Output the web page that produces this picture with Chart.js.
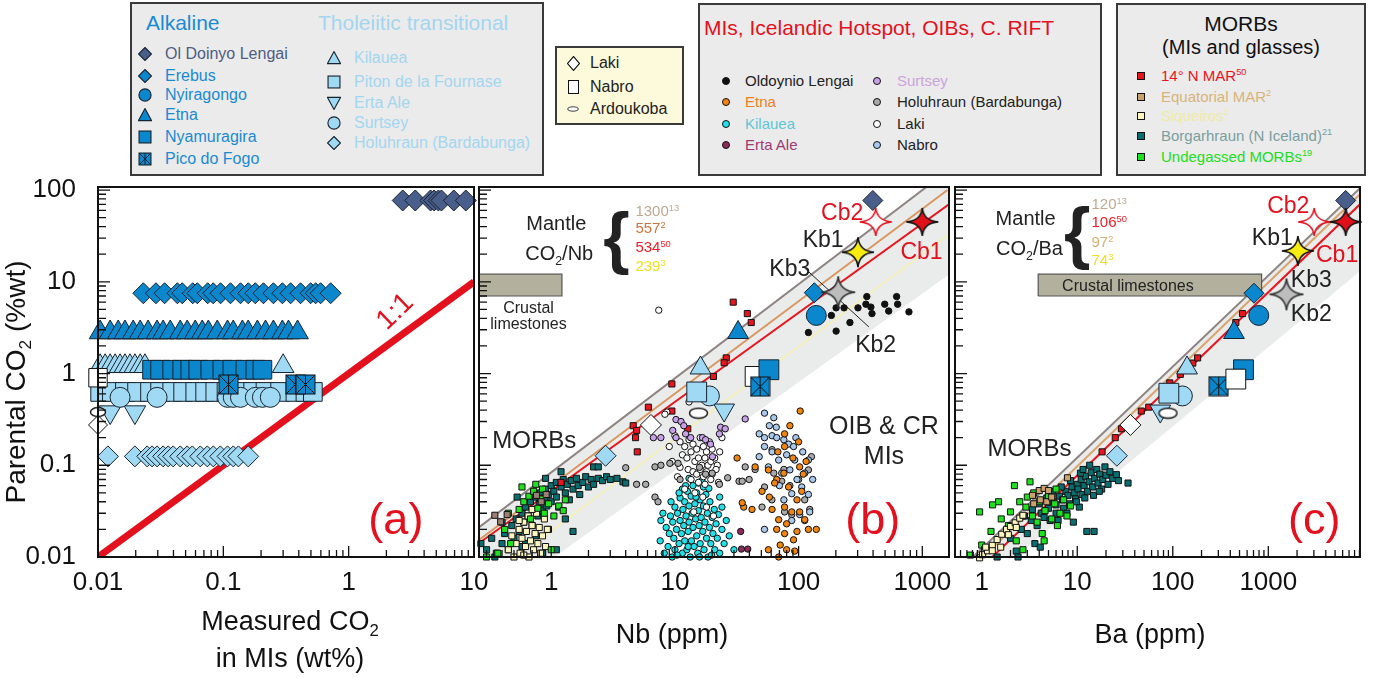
<!DOCTYPE html>
<html>
<head>
<meta charset="utf-8">
<script src="https://cdn.jsdelivr.net/npm/chart.js@4.4.1/dist/chart.umd.min.js"></script>
<style>
body { margin: 0; background: #fff; width: 1375px; height: 678px; overflow: hidden; position: relative; font-family: "Liberation Sans", Arial, sans-serif; }
canvas { position: absolute; }
.box { position: absolute; border: 2px solid #3a3a3a; background: #ebebeb; box-sizing: border-box; }
.t { position: absolute; white-space: nowrap; line-height: 24px; }
.m { position: absolute; line-height: 0; }
sup { font-size: 62%; vertical-align: top; position: relative; top: -4px; }
</style>
</head>
<body>
<div id="legend"></div>
<canvas id="cA" width="500" height="508" style="left:0;top:170px"></canvas>
<canvas id="cB" width="500" height="508" style="left:464px;top:170px"></canvas>
<canvas id="cC" width="435" height="508" style="left:940px;top:170px"></canvas>
<script>
// ---- axis ranges / tick labels ----
const yRange = [0.01, 108];
const yTicks = [0.01, 0.1, 1, 10, 100];
const xRangeA = [0.01, 10];
const xTicksA = [0.01, 0.1, 1, 10];
const xRangeB = [0.2606, 1644];
const xTicksB = [1, 10, 100, 1000];
const xRangeC = [0.525, 9120];
const xTicksC = [1, 10, 100, 1000];

// ---- panel (a): measured vs parental CO2 (wt%) ----
const aOlDoinyoX = [2.7, 3.4, 4.5, 4.8, 5.2, 5.5, 6.9, 8.6];
const aOlDoinyoY = 77;
const aErebusX = [0.023, 0.029, 0.034, 0.043, 0.047, 0.057, 0.062, 0.075, 0.083, 0.095, 0.114, 0.137, 0.158, 0.18, 0.209, 0.251, 0.296, 0.344, 0.413, 0.497, 0.545, 0.597, 0.718];
const aErebusY = 7.5;
const aEtnaX = [0.0104, 0.0125, 0.0145, 0.0164, 0.0191, 0.0217, 0.0251, 0.0296, 0.0331, 0.0377, 0.0453, 0.0515, 0.0597, 0.0679, 0.0759, 0.0895, 0.108, 0.12, 0.142, 0.158, 0.187, 0.217, 0.251, 0.296, 0.331, 0.391];
const aEtnaY = 2.8;
const aNyamuragiraX = [0.027, 0.0313, 0.0391, 0.047, 0.0545, 0.0631, 0.0787, 0.0982, 0.118, 0.15, 0.18, 0.205];
const aNyamuragiraY = 1.1;
const aKilaueaX = [0.0104, 0.0114, 0.0125, 0.0137, 0.015, 0.0164, 0.018, 0.0197, 0.0217, 0.0237, 0.3];
const aKilaueaY = 1.2;
const aPitonX = [0.0104, 0.0129, 0.0164, 0.0205, 0.026, 0.0313, 0.0391, 0.0478, 0.0597, 0.0716, 0.0863, 0.106, 0.137, 0.173, 0.217, 0.284, 0.376, 0.452, 0.518];
const aPitonY = 0.63;
const aSurtseyX = [0.015, 0.0296, 0.108, 0.12, 0.137, 0.18, 0.205, 0.237];
const aSurtseyY = 0.55;
const aErtaAleX = [0.0125, 0.0197];
const aErtaAleY = 0.38;
const aHoluhraunX = [0.012, 0.0197, 0.0247, 0.027, 0.0296, 0.0331, 0.0363, 0.0398, 0.0453, 0.0515, 0.0565, 0.0655, 0.0745, 0.0832, 0.0946, 0.108, 0.12, 0.132, 0.158];
const aHoluhraunY = 0.125;
const aFogoX = [0.11, 0.376, 0.452];
const aFogoY = 0.76;
const aLaki = [[0.01, 0.275]];
const aNabro = [[0.01, 0.9]];
const aArdoukoba = [[0.01, 0.38]];
const aOneToOne = [[0.01, 0.01], [10, 10]];

// ---- panel (b): Nb (ppm) vs parental CO2 ----
const bBand = [[0.26, 0.021], [1080, 108], [1700, 108], [1700, 12.4], [1.06, 0.01], [0.26, 0.01]];
const bLineGray = [[0.26, 0.021], [1080, 108]];
const bLineTan = [[0.26, 0.0153], [1600, 100]];
const bLineRed = [[0.26, 0.0141], [1644, 70]];
const bLineYellow = [[0.5, 0.0096], [1644, 33]];
const bLimestone = [[0.2, 7.0], [1.22, 7.0], [1.22, 12.1], [0.2, 12.1], [0.2, 7.0]];
const bKbLeader = [[112, 14.1], [370, 3.22]];
const bTeal = [[0.27,0.014],[0.30,0.012],[0.33,0.016],[0.35,0.010],[0.36,0.011],[0.40,0.014],[0.42,0.018],[0.45,0.012],[0.48,0.022],[0.50,0.016],[0.52,0.026],[0.53,0.045],[0.55,0.019],[0.58,0.030],[0.60,0.024],[0.62,0.035],[0.65,0.028],[0.68,0.040],[0.70,0.022],[0.72,0.033],[0.75,0.045],[0.78,0.028],[0.80,0.038],[0.82,0.050],[0.85,0.032],[0.88,0.044],[0.90,0.055],[0.92,0.036],[0.95,0.048],[1.0,0.060],[1.0,0.040],[1.05,0.052],[1.1,0.045],[1.1,0.065],[1.15,0.035],[1.2,0.058],[1.25,0.070],[1.3,0.050],[1.35,0.062],[1.4,0.042],[1.45,0.068],[1.5,0.055],[1.5,0.019],[1.6,0.072],[1.65,0.060],[1.7,0.048],[1.8,0.065],[1.9,0.075],[2.0,0.058],[2.1,0.070],[2.2,0.096],[2.2,0.062],[2.4,0.072],[2.4,0.096],[2.6,0.068],[2.8,0.075],[3.0,0.070],[3.4,0.072],[3.8,0.066],[4.0,0.064],[0.62,0.014],[0.75,0.017],[0.95,0.020],[1.3,0.026],[1.1,0.012],[0.85,0.011],[0.9,0.072],[1.2,0.085],[0.4,0.024],[0.58,0.013]];
const bCream = [[0.45,0.012],[0.48,0.017],[0.50,0.010],[0.52,0.014],[0.55,0.020],[0.56,0.011],[0.58,0.016],[0.60,0.024],[0.62,0.013],[0.63,0.019],[0.65,0.028],[0.66,0.010],[0.68,0.015],[0.70,0.022],[0.72,0.012],[0.74,0.018],[0.76,0.030],[0.78,0.014],[0.80,0.021],[0.82,0.011],[0.85,0.017],[0.88,0.026],[0.90,0.013],[0.93,0.020],[0.55,0.025],[0.70,0.033],[0.60,0.0105]];
const bGreen = [[0.30,0.010],[0.37,0.011],[0.42,0.020],[0.47,0.014],[0.55,0.033],[0.60,0.040],[0.66,0.046],[0.72,0.052],[0.68,0.026],[0.78,0.034],[0.82,0.043],[0.88,0.030],[0.95,0.038],[1.0,0.012],[1.05,0.028],[1.15,0.036],[1.25,0.032],[0.85,0.055],[0.58,0.058],[1.3,0.042],[0.45,0.030],[0.75,0.062]];
const bEquatorial = [[0.35,0.0285],[0.44,0.029],[0.39,0.0242],[0.76,0.047],[0.83,0.040],[0.91,0.048]];
const bMar14 = [[29.6,6.0],[38.5,4.5],[41.4,3.6],[26,1.48],[25,1.31],[20.5,0.93],[9.45,0.77],[6.1,0.43],[9.45,0.39],[12.7,0.25],[4.6,0.27],[4.9,0.24],[4.8,0.20],[4.96,0.14],[1.2,0.065]];
const bKilaueaMI = [[7.6,0.015],[8.2,0.011],[8.5,0.021],[8.8,0.013],[9.0,0.018],[9.2,0.028],[9.5,0.010],[9.6,0.024],[9.8,0.016],[10,0.035],[10,0.012],[10.3,0.020],[10.5,0.030],[10.8,0.014],[11,0.025],[11,0.044],[11.3,0.018],[11.5,0.011],[11.6,0.033],[11.8,0.022],[12,0.040],[12,0.015],[12.3,0.028],[12.5,0.012],[12.6,0.052],[12.8,0.019],[13,0.036],[13,0.024],[13.3,0.010],[13.5,0.046],[13.6,0.015],[13.8,0.030],[14,0.021],[14,0.060],[14.3,0.013],[14.5,0.038],[14.7,0.026],[15,0.017],[15,0.050],[15.3,0.011],[15.5,0.032],[15.7,0.022],[16,0.042],[16,0.014],[16.3,0.027],[16.5,0.068],[16.8,0.019],[17,0.036],[17.2,0.012],[17.5,0.024],[17.8,0.048],[18,0.016],[18.3,0.030],[18.5,0.010],[19,0.021],[19.2,0.040],[19.5,0.014],[20,0.027],[20.3,0.018],[20.8,0.033],[21,0.012],[21.5,0.023],[22,0.016],[22.5,0.029],[23,0.011],[24,0.020],[25,0.014],[26,0.025],[27.5,0.017],[13,0.072],[15.5,0.064],[12.2,0.060],[17,0.058],[11.5,0.055],[8.0,0.030],[9.3,0.040],[10.8,0.050],[24,0.035],[18.8,0.056],[14.8,0.045],[12.8,0.013],[15.8,0.010],[10.4,0.0105],[19.8,0.0105],[23,0.045],[7.7,0.025],[30,0.012]];
const bLakiMI = [[7.4,4.9],[8.6,0.38],[8.3,0.36],[13,0.49],[10,0.21],[11,0.18],[12,0.16],[13,0.19],[14,0.17],[15,0.15],[16,0.20],[17,0.16],[18,0.14],[19,0.18],[20,0.15],[11.5,0.13],[12.5,0.12],[13.5,0.14],[14.5,0.11],[15.5,0.12],[16.5,0.10],[17.5,0.12],[18.5,0.10],[19.5,0.11],[21,0.12],[22,0.10],[11,0.095],[12.8,0.09],[14,0.085],[15,0.08],[16,0.09],[17,0.075],[18,0.085],[20,0.08],[21.5,0.09],[13.5,0.07],[15.5,0.065],[17.5,0.062],[19.5,0.07],[12,0.055],[14.5,0.05],[16.8,0.045],[10.5,0.075],[9.5,0.11],[23,0.14],[24,0.20],[9,0.16],[22.5,0.065],[18,0.035],[20.5,0.028],[14.2,0.031]];
const bSurtseyMI = [[6.7,0.20],[7.7,0.20],[9.6,0.24],[10.2,0.315],[11.2,0.30],[11.8,0.27],[10.2,0.20],[13.4,0.20],[16.7,0.20],[17.7,0.19],[19.4,0.17],[20.1,0.124],[22.9,0.22],[23.4,0.26],[25.5,0.25],[37,0.32],[12.2,0.22]];
const bHoluhraunMI = [[4,0.094],[4.9,0.062],[5.8,0.062],[6.9,0.096],[7.7,0.10],[9.1,0.105],[10.6,0.105],[6.9,0.045],[7.3,0.040],[11,0.07],[15.8,0.095],[17.7,0.08],[20,0.082],[22.9,0.062],[26.7,0.073],[33,0.067],[35,0.067],[39.8,0.07],[37,0.096],[44.5,0.09],[53,0.058],[63,0.082],[73,0.067],[85,0.06],[100,0.07],[112,0.042],[123,0.033],[60.8,0.042],[77,0.031],[50.6,0.035],[88,0.029],[120,0.089],[127,0.124],[76,0.09],[61,0.148]];
const bNabroMI = [[53,0.37],[63,0.33],[48,0.22],[53,0.20],[61,0.21],[66.5,0.20],[76,0.19],[83,0.17],[91,0.16],[53,0.16],[61,0.14],[69,0.114],[80,0.13],[93,0.114],[57,0.096],[73,0.082],[85,0.089],[97,0.070],[112,0.082],[106,0.058],[120,0.048],[88,0.049],[76,0.042],[123,0.031],[102,0.029],[88,0.025],[112,0.025],[53,0.020],[120,0.114],[48,0.124],[66,0.26],[95,0.20],[58,0.27],[108,0.14],[70,0.06],[130,0.07]];
const bEtnaMI = [[103,0.39],[31.8,0.12],[44.5,0.096],[57,0.089],[66.5,0.07],[76,0.082],[77,0.22],[77,0.16],[102,0.096],[109,0.08],[106,0.052],[97,0.042],[83,0.058],[64,0.064],[58,0.045],[77,0.035],[102,0.031],[139,0.020],[120,0.020],[61,0.033],[69,0.0255],[80,0.023],[66.5,0.020],[77,0.018],[91,0.0154],[71,0.0135],[80,0.012],[69,0.010],[57,0.012],[93,0.0116],[36,0.035],[42,0.033],[35,0.039],[50.6,0.052],[88,0.031],[97,0.019],[112,0.0255],[90,0.12],[68,0.14],[100,0.18],[85,0.27],[115,0.11]];
const bErtaAleMI = [[34,0.019],[34.5,0.0122],[38.8,0.0122]];
const bOldoynioMI = [[356,6.9],[620,6.9],[302,5.2],[350,5.7],[384,5.3],[497,5.7],[632,5.7],[780,4.7],[535,4.8],[392,4.5],[201,5.2],[184,4.3],[260,3.6],[201,2.9],[120,2.8],[233,5.2]];
const bOlDoinyo = [[398, 77]];
const bErebus = [[134, 7.6]];
const bNyiragongo = [[139, 4.3]];
const bEtna = [[32.4, 2.8]];
const bNabro = [[44.5, 0.93]];
const bNyamuragira = [[57.5, 1.1]];
const bFogo = [[48.8, 0.72]];
const bKilauea = [[16.1, 1.15]];
const bSurtsey = [[19, 0.57]];
const bPiton = [[15, 0.63]];
const bErtaAle = [[25, 0.40]];
const bArdoukoba = [[15.5, 0.37]];
const bLaki = [[6.4, 0.275]];
const bHoluhraun = [[2.75, 0.127]];
const bCb1 = [[1000, 45]];
const bCb2 = [[420, 45]];
const bKb1 = [[302, 21]];
const bKb23 = [[209, 7.7]];

// ---- panel (c): Ba (ppm) vs parental CO2 ----
const cBand = [[0.81, 0.01], [9120, 105], [9120, 13.0], [2.24, 0.01]];
const cLineGray = [[0.81, 0.01], [9120, 105]];
const cLineTan = [[1.03, 0.01], [9120, 90]];
const cLineRed = [[1.29, 0.01], [9120, 70]];
const cLimestone = [[3.9, 7.0], [851, 7.0], [851, 12.1], [3.9, 12.1], [3.9, 7.0]];
const cTeal = [[1.45,0.010],[2.3,0.0116],[2.4,0.010],[3.6,0.014],[4.1,0.0128],[2.0,0.016],[2.6,0.020],[3.0,0.018],[3.3,0.025],[3.8,0.022],[4.2,0.030],[4.5,0.027],[5.0,0.034],[5.2,0.025],[5.6,0.040],[6.0,0.037],[6.0,0.030],[6.5,0.046],[7.0,0.042],[7.2,0.034],[7.6,0.052],[8.0,0.047],[8.3,0.038],[8.8,0.058],[9.1,0.024],[9.3,0.050],[9.6,0.043],[10,0.062],[10.2,0.055],[10.5,0.035],[11,0.070],[11.2,0.048],[11.8,0.060],[12.2,0.076],[12.6,0.019],[12.8,0.052],[13.3,0.066],[13.5,0.10],[14,0.083],[14.5,0.058],[15,0.019],[15.2,0.072],[16,0.090],[16.5,0.064],[17.2,0.080],[18,0.055],[18.5,0.070],[19.5,0.096],[20,0.078],[21,0.062],[22,0.085],[23.5,0.072],[25.7,0.079],[27,0.068],[34,0.064],[5.5,0.052],[4.8,0.044],[6.8,0.058],[8.5,0.068],[10.8,0.082],[7.8,0.030],[9.8,0.040],[12,0.044],[14.8,0.047],[3.4,0.033],[2.8,0.028],[4.0,0.038],[11.5,0.090],[6.3,0.025],[17,0.052]];
const cGreen = [[0.76,0.0105],[1.0,0.0135],[1.25,0.019],[1.6,0.026],[1.9,0.022],[2.0,0.031],[2.3,0.015],[2.5,0.040],[2.9,0.035],[3.0,0.045],[3.4,0.028],[3.5,0.050],[3.8,0.024],[4.0,0.040],[4.3,0.018],[4.6,0.032],[5.0,0.046],[5.4,0.026],[5.8,0.038],[6.2,0.022],[6.6,0.030],[7.2,0.042],[7.8,0.028],[8.5,0.036],[2.2,0.060],[1.5,0.040],[3.2,0.066],[6.0,0.055],[4.5,0.015],[2.7,0.012],[0.95,0.031],[1.3,0.037]];
const cCream = [[0.95,0.0098],[1.02,0.0106],[1.15,0.0117],[1.29,0.0134],[1.45,0.0155],[1.62,0.0177],[1.82,0.0200],[2.0,0.0215],[2.24,0.0236],[2.5,0.0265],[2.7,0.0285],[1.29,0.0117],[1.58,0.0128],[1.1,0.0128],[1.9,0.0175],[2.3,0.021]];
const cEquatorial = [[3.4,0.047],[4.0,0.053],[4.5,0.056],[5.0,0.053],[4.1,0.042],[4.8,0.040],[5.4,0.045],[3.5,0.038],[7.9,0.073],[2.7,0.028]];
const cMar14 = [[18.2,0.14],[25,0.20],[29,0.25],[46.8,0.39],[56,0.43],[93,0.79],[120,0.98],[162,1.30],[182,1.48],[457,3.6],[537,4.5]];
const cOlDoinyo = [[6460, 77]];
const cErebus = [[708, 7.5]];
const cNyiragongo = [[794, 4.3]];
const cEtna = [[437, 2.8]];
const cNyamuragira = [[550, 1.1]];
const cNabro = [[457, 0.87]];
const cFogo = [[302, 0.73]];
const cKilauea = [[141, 1.15]];
const cSurtsey = [[126, 0.57]];
const cPiton = [[91, 0.61]];
const cErtaAle = [[74, 0.39]];
const cArdoukoba = [[89, 0.37]];
const cLaki = [[36, 0.275]];
const cHoluhraun = [[26, 0.127]];
const cCb1 = [[6460, 45]];
const cCb2 = [[3020, 45]];
const cKb1 = [[2040, 21.7]];
const cKb23 = [[1550, 7.3]];

// ---- colours ----
const blue = '#0b87cd', light = '#a0d9f3', slate = '#4a5e8c', edge = '#17232f', red = '#e3101e';
const font = (s, w) => (w || '') + ' ' + s + 'px "Liberation Sans", Arial, sans-serif';

// custom point markers
function markCanvas(w, h, draw) {
  const c = document.createElement('canvas');
  c.width = w; c.height = h;
  const g = c.getContext('2d');
  g.translate(w / 2, h / 2);
  draw(g);
  return c;
}
function fogoMark(s) {
  return markCanvas(s + 2, s + 2, g => {
    const h = s / 2;
    g.fillStyle = blue; g.fillRect(-h, -h, s, s);
    g.strokeStyle = '#111'; g.lineWidth = 1; g.strokeRect(-h, -h, s, s);
    g.beginPath(); g.moveTo(-h, -h); g.lineTo(h, h); g.moveTo(h, -h); g.lineTo(-h, h);
    g.moveTo(0, -h); g.lineTo(0, h); g.stroke();
  });
}
function ellipseMark(w, h) {
  return markCanvas(w + 3, h + 3, g => {
    g.beginPath(); g.ellipse(0, 0, w / 2, h / 2, 0, 0, Math.PI * 2);
    g.fillStyle = '#fff'; g.fill(); g.strokeStyle = '#111'; g.lineWidth = 1.4; g.stroke();
  });
}
function starMark(fill, stroke, rx, ry) {
  return markCanvas(2 * rx + 6, 2 * ry + 6, g => {
    const k = 0.08;
    g.beginPath();
    g.moveTo(0, -ry);
    g.quadraticCurveTo(rx * k, -ry * k, rx, 0);
    g.quadraticCurveTo(rx * k, ry * k, 0, ry);
    g.quadraticCurveTo(-rx * k, ry * k, -rx, 0);
    g.quadraticCurveTo(-rx * k, -ry * k, 0, -ry);
    g.closePath();
    g.fillStyle = fill; g.fill();
    g.lineWidth = 1.6; g.strokeStyle = stroke; g.stroke();
  });
}

const pts = arr => arr.map(p => ({ x: p[0], y: p[1] }));
const row = (xs, y) => xs.map(x => ({ x, y }));
function sym(data, style, fill, r, extra) {
  return Object.assign({ data, pointStyle: style, pointBackgroundColor: fill, pointBorderColor: edge,
    pointBorderWidth: 1, pointRadius: r, showLine: false, clip: false }, extra || {});
}
const dots = (arr, fill) => sym(pts(arr), 'circle', fill, 3.2, { pointBorderColor: '#111' });
const sqs = (arr, fill) => sym(pts(arr), 'rect', fill, 4.3, { pointBorderColor: '#111' });
const line = (arr, color, w) => ({ data: pts(arr), showLine: true, borderColor: color, borderWidth: w, pointRadius: 0, fill: false, tension: 0 });
const shape = (arr, fill, border, w) => ({ data: pts(arr), showLine: true, borderColor: border, borderWidth: w, backgroundColor: fill, pointRadius: 0, fill: 'shape', tension: 0 });

// rich text: segments [text, 'sub'|'sup'|'', colour]
function rich(ctx, segs, x, y, size, align, color, rot, weight) {
  let w = 0;
  const parts = segs.map(s => {
    const sz = s[1] ? size * 0.62 : size;
    ctx.font = font(sz, weight);
    const mw = ctx.measureText(s[0]).width;
    w += mw;
    return { txt: s[0], sz, mw, mode: s[1], col: s[2] };
  });
  ctx.save();
  ctx.translate(x, y);
  ctx.rotate((rot || 0) * Math.PI / 180);
  ctx.textAlign = 'left'; ctx.textBaseline = 'alphabetic';
  let cx = align === 'left' ? 0 : (align === 'right' ? -w : -w / 2);
  const base = size * 0.358;
  parts.forEach(p => {
    ctx.font = font(p.sz, weight);
    ctx.fillStyle = p.col || color;
    const dy = p.mode === 'sub' ? size * 0.22 : (p.mode === 'sup' ? -size * 0.36 : 0);
    ctx.fillText(p.txt, cx, base + dy);
    cx += p.mw;
  });
  ctx.restore();
}

function logSteps(min, max) {
  const out = [];
  for (let e = Math.floor(Math.log10(min)); e <= Math.ceil(Math.log10(max)); e++) {
    for (let m = 1; m <= 9; m++) {
      const v = m * Math.pow(10, e);
      if (v >= min * 0.999 && v <= max * 1.001) out.push({ v, major: m === 1 });
    }
  }
  return out;
}

function deco(cfg) {
  return {
    id: 'deco',
    afterDatasetsDraw(chart) {
      const { ctx, chartArea: a } = chart;
      const x = chart.scales.x, y = chart.scales.y;
      ctx.save();
      (cfg.notes || []).forEach(n => rich(ctx, n.t, x.getPixelForValue(n.x), y.getPixelForValue(n.y),
        n.size, n.align || 'center', n.color || '#222', n.rot, n.weight));
      ctx.strokeStyle = '#111';
      ctx.lineWidth = 1.3;
      ctx.beginPath();
      logSteps(x.min, x.max).forEach(t => {
        const px = x.getPixelForValue(t.v);
        ctx.moveTo(px, a.bottom); ctx.lineTo(px, a.bottom - (t.major ? 11 : 7));
      });
      logSteps(y.min, y.max).forEach(t => {
        const py = y.getPixelForValue(t.v);
        ctx.moveTo(a.left, py); ctx.lineTo(a.left + (t.major ? 12 : 8), py);
      });
      ctx.stroke();
      ctx.lineWidth = 2;
      ctx.strokeRect(a.left, a.top, a.right - a.left, a.bottom - a.top);
      ctx.fillStyle = '#111';
      ctx.font = font(26);
      ctx.textBaseline = 'middle';
      ctx.textAlign = 'center';
      cfg.xTicks.forEach(v => ctx.fillText(String(v), x.getPixelForValue(v), a.bottom + 26));
      if (cfg.yTicks) {
        ctx.textAlign = 'right';
        cfg.yTicks.forEach(v => ctx.fillText(String(v), a.left - 22, y.getPixelForValue(v)));
      }
      (cfg.titles || []).forEach(t => rich(ctx, t.t, t.x, t.y, t.size, 'center', '#111', t.rot));
      ctx.restore();
    }
  };
}

function makeChart(id, xr, pad, sets, cfg) {
  sets.forEach((d, i) => { d.order = sets.length - i; });
  return new Chart(document.getElementById(id), {
    type: 'scatter',
    data: { datasets: sets },
    options: {
      responsive: false, animation: false, events: [],
      layout: { padding: pad },
      plugins: { legend: { display: false }, tooltip: { enabled: false } },
      scales: {
        x: { type: 'logarithmic', min: xr[0], max: xr[1], display: false },
        y: { type: 'logarithmic', min: yRange[0], max: yRange[1], display: false }
      }
    },
    plugins: [deco(cfg)]
  });
}

// ---------- panel (a) ----------
makeChart('cA', xRangeA, { left: 98, right: 26, top: 17, bottom: 121 }, [
  line(aOneToOne, red, 7),
  sym(row(aHoluhraunX, aHoluhraunY), 'rectRot', light, 10.5),
  sym(row(aErtaAleX, aErtaAleY), 'triangle', light, 12.5, { pointRotation: 180 }),
  sym(row(aKilaueaX, aKilaueaY), 'triangle', light, 12.5),
  sym(row(aPitonX, aPitonY), 'rect', light, 13.2),
  sym(row(aNyamuragiraX, aNyamuragiraY), 'rect', blue, 13.2),
  sym(row(aSurtseyX, aSurtseyY), 'circle', light, 10),
  sym(row(aFogoX, aFogoY), fogoMark(19), blue, 9),
  sym(row(aEtnaX, aEtnaY), 'triangle', blue, 12.5),
  sym(row(aErebusX, aErebusY), 'rectRot', blue, 10.5),
  sym(row(aOlDoinyoX, aOlDoinyoY), 'rectRot', slate, 10.5),
  sym(pts(aLaki), 'rectRot', '#fff', 9.5, { pointBorderColor: '#111' }),
  sym(pts(aArdoukoba), ellipseMark(15, 9), '#fff', 7),
  sym(pts(aNabro), 'rect', '#fff', 13, { pointBorderColor: '#111' })
], {
  xTicks: xTicksA, yTicks: yTicks,
  notes: [
    { t: [['1:1']], x: 2.29, y: 4.9, size: 28, color: red, rot: -44 },
    { t: [['(a)']], x: 2.38, y: 0.027, size: 45, color: red }
  ],
  titles: [
    { t: [['Parental CO'], ['2', 'sub'], [' (%wt)']], x: 15, y: 212, size: 28, rot: -90 },
    { t: [['Measured CO'], ['2', 'sub']], x: 290, y: 450, size: 27 },
    { t: [['in MIs (wt%)']], x: 290, y: 487, size: 27 }
  ]
});

// ---------- panel (b) ----------
makeChart('cB', xRangeB, { left: 10, right: 15, top: 17, bottom: 121 }, [
  shape(bBand, '#eaeceb', 'rgba(0,0,0,0)', 0),
  line(bLineYellow, '#f6f0b0', 1.5),
  line(bLineGray, '#8d8482', 2),
  line(bLineTan, '#d9965e', 2),
  line(bLineRed, '#e8141e', 2),
  shape(bLimestone, '#b3b19d', '#555', 1.2),
  line(bKbLeader, '#222', 1),
  sqs(bTeal, '#0a6e70'),
  sqs(bCream, '#fdf6c0'),
  sqs(bGreen, '#1ee21e'),
  sqs(bEquatorial, '#9c7f74'),
  sqs(bMar14, '#e8141e'),
  dots(bKilaueaMI, '#22e0e8'),
  dots(bLakiMI, '#ffffff'),
  dots(bSurtseyMI, '#c9a0ea'),
  dots(bHoluhraunMI, '#a9a9a9'),
  dots(bNabroMI, '#a8c8ec'),
  dots(bEtnaMI, '#f0850f'),
  dots(bErtaAleMI, '#8c2a5c'),
  dots(bOldoynioMI, '#111111'),
  sym(pts(bHoluhraun), 'rectRot', light, 10.5),
  sym(pts(bLaki), 'rectRot', '#fff', 10.5, { pointBorderColor: '#111' }),
  sym(pts(bErtaAle), 'triangle', light, 12, { pointRotation: 180 }),
  sym(pts(bSurtsey), 'circle', light, 10),
  sym(pts(bPiton), 'rect', light, 14),
  sym(pts(bKilauea), 'triangle', light, 12),
  sym(pts(bArdoukoba), ellipseMark(18, 10), '#fff', 8),
  sym(pts(bNabro), 'rect', '#fff', 14, { pointBorderColor: '#111' }),
  sym(pts(bNyamuragira), 'rect', blue, 14),
  sym(pts(bFogo), fogoMark(19), blue, 9),
  sym(pts(bEtna), 'triangle', blue, 12),
  sym(pts(bNyiragongo), 'circle', blue, 10),
  sym(pts(bErebus), 'rectRot', blue, 10),
  sym(pts(bOlDoinyo), 'rectRot', slate, 10),
  sym(pts(bKb23), starMark('#bdbdbd', '#333', 17, 16), '#bbb', 10),
  sym(pts(bKb1), starMark('#f8ec10', '#111', 16, 15), '#ff0', 10),
  sym(pts(bCb2), starMark('#ffffff', red, 16, 14), '#fff', 10),
  sym(pts(bCb1), starMark('#e0101a', '#111', 16, 14), red, 10)
], {
  xTicks: xTicksB,
  notes: [
    { t: [['Mantle']], x: 1.10, y: 43.7, size: 20 },
    { t: [['CO'], ['2', 'sub'], ['/Nb']], x: 1.16, y: 20.6, size: 20 },
    { t: [['{']], x: 3.37, y: 31, size: 68, weight: 'bold' },
    { t: [['1300', '', '#bea891'], ['13', 'sup', '#bea891']], x: 4.79, y: 59, size: 15, align: 'left' },
    { t: [['557', '', '#d0743e'], ['2', 'sup', '#d0743e']], x: 4.79, y: 38.6, size: 15, align: 'left' },
    { t: [['534', '', '#ee1c25'], ['50', 'sup', '#ee1c25']], x: 4.79, y: 24, size: 15, align: 'left' },
    { t: [['239', '', '#efe020'], ['3', 'sup', '#efe020']], x: 4.79, y: 14.9, size: 15, align: 'left' },
    { t: [['Crustal']], x: 0.655, y: 5.3, size: 16 },
    { t: [['limestones']], x: 0.655, y: 3.55, size: 16 },
    { t: [['Cb2']], x: 225, y: 57.6, size: 23, color: red },
    { t: [['Cb1']], x: 985, y: 21.6, size: 23, color: red },
    { t: [['Kb1']], x: 158, y: 29.2, size: 23 },
    { t: [['Kb3']], x: 84.8, y: 14.1, size: 23 },
    { t: [['Kb2']], x: 420, y: 2.1, size: 23 },
    { t: [['MORBs']], x: 0.73, y: 0.19, size: 24 },
    { t: [['OIB & CR']], x: 490, y: 0.275, size: 25 },
    { t: [['MIs']], x: 490, y: 0.13, size: 25 },
    { t: [['(b)']], x: 398, y: 0.027, size: 45, color: red }
  ],
  titles: [{ t: [['Nb (ppm)']], x: 208, y: 463, size: 27 }]
});

// ---------- panel (c) ----------
makeChart('cC', xRangeC, { left: 9, right: 2, top: 17, bottom: 121 }, [
  shape(cBand, '#eaeceb', 'rgba(0,0,0,0)', 0),
  line(cLineGray, '#8d8482', 2),
  line(cLineTan, '#d9a46e', 2),
  line(cLineRed, '#e8141e', 2),
  shape(cLimestone, '#b3b19d', '#555', 1.2),
  sqs(cTeal, '#0a6e70'),
  sqs(cGreen, '#1ee21e'),
  sqs(cEquatorial, '#c9a26c'),
  sqs(cCream, '#fdf6c0'),
  sqs(cMar14, '#e8141e'),
  sym(pts(cHoluhraun), 'rectRot', light, 10.5),
  sym(pts(cLaki), 'rectRot', '#fff', 10.5, { pointBorderColor: '#111' }),
  sym(pts(cErtaAle), 'triangle', light, 12, { pointRotation: 180 }),
  sym(pts(cSurtsey), 'circle', light, 10),
  sym(pts(cPiton), 'rect', light, 14),
  sym(pts(cArdoukoba), ellipseMark(18, 10), '#fff', 8),
  sym(pts(cKilauea), 'triangle', light, 12),
  sym(pts(cFogo), fogoMark(19), blue, 9),
  sym(pts(cNyamuragira), 'rect', blue, 14),
  sym(pts(cNabro), 'rect', '#fff', 14, { pointBorderColor: '#111' }),
  sym(pts(cEtna), 'triangle', blue, 12),
  sym(pts(cNyiragongo), 'circle', blue, 10),
  sym(pts(cErebus), 'rectRot', blue, 10),
  sym(pts(cOlDoinyo), 'rectRot', slate, 10),
  sym(pts(cKb23), starMark('#bdbdbd', '#333', 17, 16), '#bbb', 10),
  sym(pts(cKb1), starMark('#f8ec10', '#111', 16, 15), '#ff0', 10),
  sym(pts(cCb2), starMark('#ffffff', red, 16, 14), '#fff', 10),
  sym(pts(cCb1), starMark('#e0101a', '#111', 16, 14), red, 10)
], {
  xTicks: xTicksC,
  notes: [
    { t: [['Mantle']], x: 2.88, y: 49.6, size: 20 },
    { t: [['CO'], ['2', 'sub'], ['/Ba']], x: 3.16, y: 23.3, size: 20 },
    { t: [['{']], x: 10, y: 35, size: 68, weight: 'bold' },
    { t: [['120', '', '#bea891'], ['13', 'sup', '#bea891']], x: 14.1, y: 70.4, size: 15, align: 'left' },
    { t: [['106', '', '#ee1c25'], ['50', 'sup', '#ee1c25']], x: 14.1, y: 44.8, size: 15, align: 'left' },
    { t: [['97', '', '#d8b070'], ['2', 'sup', '#d8b070']], x: 14.1, y: 27.1, size: 15, align: 'left' },
    { t: [['74', '', '#efe020'], ['3', 'sup', '#efe020']], x: 14.1, y: 17.3, size: 15, align: 'left' },
    { t: [['Crustal limestones']], x: 33.9, y: 9.2, size: 16 },
    { t: [['Cb2']], x: 1620, y: 68.7, size: 23, color: red },
    { t: [['Cb1']], x: 5250, y: 20, size: 23, color: red },
    { t: [['Kb1']], x: 1100, y: 30.7, size: 23 },
    { t: [['Kb3']], x: 2820, y: 10.7, size: 23 },
    { t: [['Kb2']], x: 2820, y: 4.6, size: 23 },
    { t: [['MORBs']], x: 3.16, y: 0.157, size: 24 },
    { t: [['(c)']], x: 3020, y: 0.027, size: 45, color: red }
  ],
  titles: [{ t: [['Ba (ppm)']], x: 210, y: 463, size: 27 }]
});

// ---------- legends (HTML) ----------
const legendEl = document.getElementById('legend');
function svgMk(kind, fill, stroke, w, h) {
  const a = `fill="${fill}" stroke="${stroke}" stroke-width="1.6"`;
  const shapes = {
    diamond: `<polygon points="0,-9.3 9.3,0 0,9.3 -9.3,0" ${a}/>`,
    circle: `<circle r="8.7" ${a}/>`,
    tri: `<polygon points="0,-9.2 9.3,8 -9.3,8" ${a}/>`,
    itri: `<polygon points="0,9.2 9.3,-8 -9.3,-8" ${a}/>`,
    square: `<rect x="-8.5" y="-8.5" width="17" height="17" ${a}/>`,
    xsquare: `<rect x="-8.5" y="-8.5" width="17" height="17" ${a}/><path d="M-8.5,-8.5L8.5,8.5M8.5,-8.5L-8.5,8.5M0,-8.5L0,8.5" stroke="${stroke}" stroke-width="1.4"/>`,
    ellipse: `<ellipse rx="9" ry="5.5" ${a}/>`
  };
  return `<svg width="${w}" height="${h}" viewBox="-10 -10 20 20" preserveAspectRatio="none">${shapes[kind]}</svg>`;
}
function box(l, t, w, h, bg) {
  legendEl.insertAdjacentHTML('beforeend', `<div class="box" style="left:${l}px;top:${t}px;width:${w}px;height:${h}px;background:${bg || '#ebebeb'}"></div>`);
}
function txt(html, left, cy, size, color, extra) {
  legendEl.insertAdjacentHTML('beforeend', `<div class="t" style="left:${left}px;top:${cy - 12}px;font-size:${size}px;color:${color};${extra || ''}">${html}</div>`);
}
function mk(kind, cx, cy, fill, w, h, stroke) {
  legendEl.insertAdjacentHTML('beforeend', `<div class="m" style="left:${cx - w / 2}px;top:${cy - h / 2}px">${svgMk(kind, fill, stroke || edge, w, h)}</div>`);
}
function dot(cx, cy, fill, w) {
  legendEl.insertAdjacentHTML('beforeend', `<div class="m" style="left:${cx - w / 2}px;top:${cy - w / 2}px;width:${w - 2}px;height:${w - 2}px;border:1px solid #111;border-radius:50%;background:${fill}"></div>`);
}
function sq(cx, cy, fill, w, h) {
  legendEl.insertAdjacentHTML('beforeend', `<div class="m" style="left:${cx - w / 2}px;top:${cy - (h || w) / 2}px;width:${w - 2}px;height:${(h || w) - 2}px;border:1px solid #111;background:${fill}"></div>`);
}

box(130, 2, 414, 174);
txt('Alkaline', 146, 23, 21, '#1a8ad2');
txt('Tholeiitic transitional', 318, 23, 21, '#a3d6ef');
[['diamond', slate, 'Ol Doinyo Lengai', '#4e5d82', 54], ['diamond', blue, 'Erebus', '#1a8ad2', 76],
 ['circle', blue, 'Nyiragongo', '#1a8ad2', 95], ['tri', blue, 'Etna', '#1a8ad2', 115],
 ['square', blue, 'Nyamuragira', '#1a8ad2', 137], ['xsquare', blue, 'Pico do Fogo', '#1a8ad2', 159]]
  .forEach(r => { mk(r[0], 145, r[4], r[1], 14, 14); txt(r[2], 165, r[4], 16, r[3]); });
[['tri', 'Kilauea', 58], ['square', 'Piton de la Fournase', 82], ['itri', 'Erta Ale', 103],
 ['circle', 'Surtsey', 123], ['diamond', 'Holuhraun (Bardabunga)', 143]]
  .forEach(r => { mk(r[0], 334, r[2], light, 14, 14); txt(r[1], 354, r[2], 16, '#a3d6ef'); });

box(555, 46, 129, 79, '#fdfadc');
mk('diamond', 573, 63, '#fff', 13, 15, '#111'); txt('Laki', 590, 63, 16, '#222');
sq(573, 87, '#fff', 11, 14); txt('Nabro', 590, 87, 16, '#222');
mk('ellipse', 573, 109, '#fff', 12, 8, '#111'); txt('Ardoukoba', 590, 109, 16, '#222');

box(698, 3, 404, 173);
txt('MIs, Icelandic Hotspot, OIBs, C. RIFT', 704, 28, 21, red);
[['#111', 'Oldoynio Lengai', '#222', 81], ['#f0850f', 'Etna', '#ee7f22', 102],
 ['#22e0e8', 'Kilauea', '#5ec6d6', 124], ['#8c2a5c', 'Erta Ale', '#a03a72', 145]]
  .forEach(r => { dot(726, r[3], r[0], 8); txt(r[1], 745, r[3], 15, r[2]); });
[['#c9a0ea', 'Surtsey', '#cba3dc', 81], ['#a9a9a9', 'Holuhraun (Bardabunga)', '#222', 102],
 ['#ffffff', 'Laki', '#222', 124], ['#a8c8ec', 'Nabro', '#222', 145]]
  .forEach(r => { dot(877, r[3], r[0], 8); txt(r[1], 897, r[3], 15, r[2]); });

box(1116, 3, 250, 173);
txt('MORBs', 1116, 24, 21, '#111', 'width:250px;text-align:center');
txt('(MIs and glasses)', 1116, 47, 20, '#111', 'width:250px;text-align:center');
[['#e8141e', '14° N MAR<sup>50</sup>', '#e8141e', 76], ['#c9a26c', 'Equatorial MAR<sup>2</sup>', '#d8b47a', 97],
 ['#fdf6c0', 'Siqueiros<sup>3</sup>', '#f0eaa6', 116], ['#0a6e70', 'Borgarhraun (N Iceland)<sup>21</sup>', '#7a9e9e', 136],
 ['#1ee21e', 'Undegassed MORBs<sup>19</sup>', '#22dd22', 157]]
  .forEach(r => { sq(1141, r[3], r[0], 8); txt(r[1], 1161, r[3], 15, r[2]); });
</script>
</body>
</html>
